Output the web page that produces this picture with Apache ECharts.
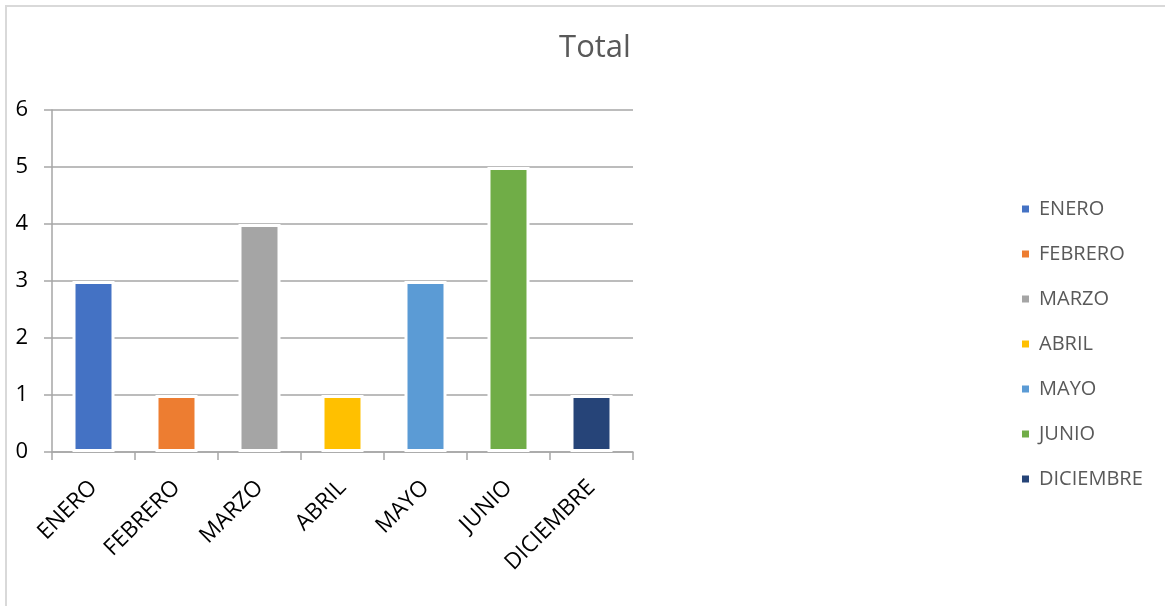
<!DOCTYPE html>
<html>
<head>
<meta charset="utf-8">
<script src="https://cdn.jsdelivr.net/npm/echarts@6/dist/echarts.min.js"></script>
<style>
html,body{margin:0;padding:0;background:#fff;}
#frame{position:absolute;left:5px;top:5px;width:1160px;height:601px;border-top:2px solid #d9d9d9;border-left:2px solid #d9d9d9;box-sizing:border-box;}
#chart{position:absolute;left:0;top:0;width:1165px;height:606px;}
</style>
</head>
<body>
<div id="frame"></div>
<div id="chart"></div>
<script>
const categories = ['ENERO','FEBRERO','MARZO','ABRIL','MAYO','JUNIO','DICIEMBRE'];
const values = [3, 1, 4, 1, 3, 5, 1];
const colors = ['#4472C4','#ED7D31','#A5A5A5','#FFC000','#5B9BD5','#70AD47','#264478'];
const yTicks = [0, 1, 2, 3, 4, 5, 6];

const FONT = 'Open Sans';
const chart = echarts.init(document.getElementById('chart'));
const series = categories.map((name, i) => ({
  name: name,
  type: 'bar',
  stack: 'total',
  barWidth: 42,
  itemStyle: { color: colors[i], borderColor: '#ffffff', borderWidth: 3 },
  data: values.map((v, j) => (j === i ? v : '-'))
}));

chart.setOption({
  animation: false,
  title: {
    text: 'Total', left: 590, top: 28, textAlign: 'center',
    textStyle: { fontFamily: FONT, fontSize: 31, fontWeight: 'normal', color: '#595959' }
  },
  legend: {
    orient: 'vertical', left: 1015, top: 192, itemGap: 21,
    itemWidth: 9, itemHeight: 9, icon: 'rect',
    textStyle: { fontFamily: FONT, fontSize: 20, lineHeight: 24, color: '#595959', padding: [0,0,0,4] },
    data: categories
  },
  grid: { left: 52, right: 532, top: 110, bottom: 154, containLabel: false },
  xAxis: {
    type: 'category', data: categories,
    axisLine: { lineStyle: { color: '#a6a6a6', width: 1.5 } },
    axisTick: { show: true, length: 8, lineStyle: { color: '#a6a6a6', width: 1.5 } },
    axisLabel: { rotate: 45, fontFamily: FONT, fontSize: 22.5, color: '#000', margin: 32, interval: 0 }
  },
  yAxis: {
    type: 'value', min: 0, max: 6, interval: 1,
    axisLine: { show: true, lineStyle: { color: '#a6a6a6', width: 1.5 } },
    axisTick: { show: true, length: 8, lineStyle: { color: '#a6a6a6', width: 1.5 } },
    axisLabel: { fontFamily: FONT, fontSize: 22, color: '#000', margin: 24,
      formatter: v => (yTicks.includes(v) ? String(v) : '') },
    splitLine: { lineStyle: { color: '#a6a6a6', width: 1.5 } }
  },
  series: series
});
</script>
</body>
</html>
